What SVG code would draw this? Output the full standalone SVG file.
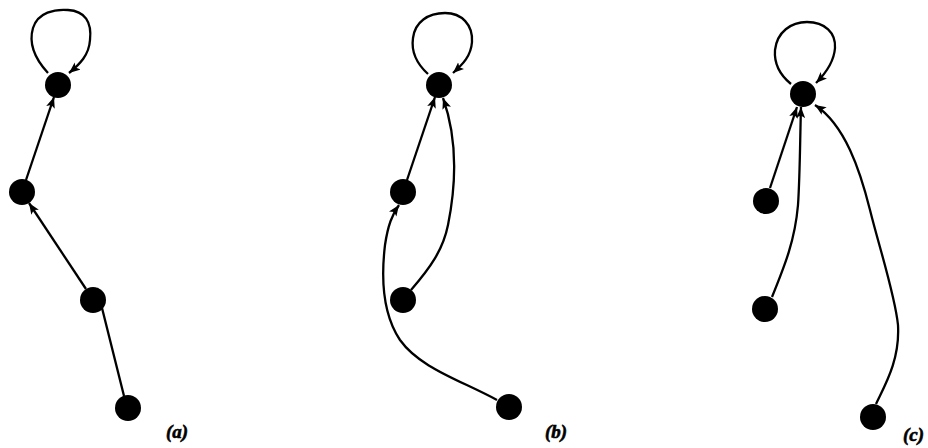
<svg xmlns="http://www.w3.org/2000/svg" width="928" height="448" viewBox="0 0 928 448">
<style>
.n{fill:#000}
.e{fill:none;stroke:#000;stroke-width:2.3;marker-end:url(#ah)}
.lb{font-family:"Liberation Serif",serif;font-weight:bold;font-style:italic;font-size:19px;fill:#000;stroke:#000;stroke-width:0.6}
</style>
<defs>
<marker id="ah" markerUnits="userSpaceOnUse" markerWidth="14" markerHeight="10" refX="11" refY="4.5" orient="auto">
<path d="M0,0 L11,4.5 L0,9 L2.5,4.5 Z" fill="#000"/>
</marker>
</defs>
<rect width="928" height="448" fill="#fff"/>
<g id="connectors">
<path class="e" d="M48,73 C36,60 28,45 33,28 C38,12 55,9 68,10 C85,11 92,22 90,40 C89,55 80,64 69,73"/>
<path class="e" d="M26,180 L54,97"/>
<path class="e" d="M86,289 L29,203"/>
<path class="e" d="M124,396 L97,288"/>
<path class="e" d="M428,74 C417,64 411,52 413,38 C415,22 428,13 445,13 C462,13 473,25 472,42 C471,56 463,64 453,73"/>
<path class="e" d="M407,180 L435,97"/>
<path class="e" d="M411,290 C430,268 443,250 448,225 C456,185 458,140 443,98"/>
<path class="e" d="M497,400 C460,380 420,368 400,340 C380,310 382,270 385,245 C388,225 392,215 399,205"/>
<path class="e" d="M791,84 C780,75 774,63 775,50 C777,32 791,22 807,22 C825,22 836,33 835,48 C834,62 826,73 816,83"/>
<path class="e" d="M770,188 L797,107"/>
<path class="e" d="M772,297 C785,265 795,240 798,205 C800,175 800,140 801,107"/>
<path class="e" d="M876,404 C885,385 900,360 898,325 C895,295 880,250 870,210 C860,170 845,125 815,105"/>
</g>
<g id="a1"><circle class="n" cx="58" cy="85" r="13"/></g>
<g id="a2"><circle class="n" cx="22" cy="192" r="13"/></g>
<g id="a3"><circle class="n" cx="93" cy="300" r="13"/></g>
<g id="a4"><circle class="n" cx="128" cy="408" r="13"/></g>
<g id="b1"><circle class="n" cx="439" cy="85" r="13"/></g>
<g id="b2"><circle class="n" cx="403" cy="192" r="13"/></g>
<g id="b3"><circle class="n" cx="403" cy="300" r="13"/></g>
<g id="b4"><circle class="n" cx="509" cy="407" r="13"/></g>
<g id="c1"><circle class="n" cx="803" cy="94" r="13"/></g>
<g id="c2"><circle class="n" cx="766" cy="201" r="13"/></g>
<g id="c3"><circle class="n" cx="765" cy="309" r="13"/></g>
<g id="c4"><circle class="n" cx="873" cy="417" r="13"/></g>
<g id="labels">
<text class="lb" x="166" y="438">(a)</text>
<text class="lb" x="545" y="438">(b)</text>
<text class="lb" x="903" y="441">(c)</text>
</g>
</svg>
